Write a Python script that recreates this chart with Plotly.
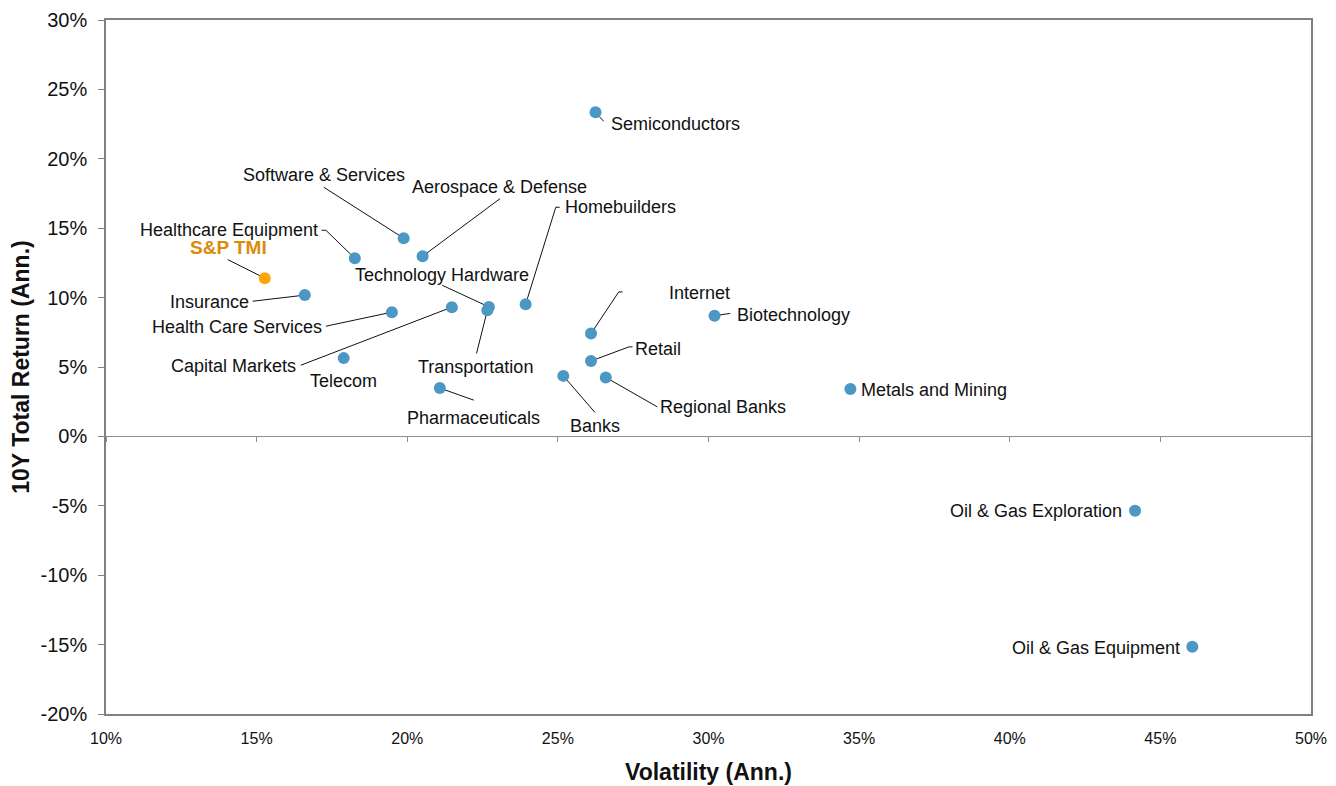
import plotly.graph_objects as go

# ---- data (percent) ----
sectors = ["Semiconductors", "Software & Services", "Aerospace & Defense", "Healthcare Equipment",
           "Insurance", "Health Care Services", "Capital Markets", "Technology Hardware",
           "Transportation", "Homebuilders", "Telecom", "Pharmaceuticals", "Internet", "Retail",
           "Banks", "Regional Banks", "Biotechnology", "Metals and Mining",
           "Oil & Gas Exploration", "Oil & Gas Equipment"]
volatility = [26.25, 19.88, 20.51, 18.26, 16.60, 19.49, 21.48, 22.71, 22.66, 23.93, 17.89, 21.08,
              26.10, 26.10, 25.18, 26.59, 30.20, 34.71, 44.16, 46.06]
total_return = [23.35, 14.28, 12.98, 12.83, 10.18, 8.95, 9.31, 9.33, 9.09, 9.52, 5.64, 3.48,
                7.41, 5.43, 4.36, 4.25, 8.69, 3.41, -5.36, -15.15]

benchmark_name = "S&P TMI"
benchmark_vol = [15.27]
benchmark_ret = [11.40]

x_ticks = [10, 15, 20, 25, 30, 35, 40, 45, 50]
y_ticks = [-20, -15, -10, -5, 0, 5, 10, 15, 20, 25, 30]

# ---- label placement (layout, in axis units): text pos, anchor, leader polyline ----
label_layout = {
    "Semiconductors":        (26.78, 22.50, "left",   [(26.52, 22.70)]),
    "Software & Services":   (17.23, 18.81, "center", [(17.23, 17.95)]),
    "Aerospace & Defense":   (23.07, 17.95, "center", [(23.08, 17.13)]),
    "Healthcare Equipment":  (17.03, 14.85, "right",  [(17.30, 14.85), (17.16, 14.85)]),
    "Insurance":             (14.74, 9.67,  "right",  [(14.87, 9.74)]),
    "Health Care Services":  (17.16, 7.87,  "right",  [(17.30, 7.94)]),
    "Capital Markets":       (16.30, 5.07,  "right",  [(16.47, 5.13)]),
    "Technology Hardware":   (21.14, 11.61, "center", [(21.16, 10.89)]),
    "Transportation":        (22.27, 4.99,  "center", [(22.30, 5.98)]),
    "Homebuilders":          (25.26, 16.51, "left",   [(24.93, 16.51), (25.06, 16.51)]),
    "Telecom":               (17.89, 3.98,  "center", []),
    "Pharmaceuticals":       (22.20, 1.32,  "center", [(22.21, 2.61)]),
    "Internet":              (29.70, 10.32, "center", None),
    "Retail":                (27.58, 6.28,  "left",   [(27.36, 6.45), (27.48, 6.45)]),
    "Banks":                 (26.22, 0.74,  "center", [(26.23, 1.73)]),
    "Regional Banks":        (28.41, 2.11,  "left",   [(28.30, 2.13)]),
    "Biotechnology":         (30.99, 8.73,  "left",   [(30.72, 8.86)]),
    "Metals and Mining":     (35.11, 3.34,  "left",   []),
    "Oil & Gas Exploration": (43.73, -5.38, "right",  []),
    "Oil & Gas Equipment":   (45.65, -15.24, "right", []),
}
internet_leader = [(27.02, 10.41), (27.15, 10.41)]
benchmark_label = (14.05, 13.63, [(14.04, 12.74)])
anchor_shift = {"left": -3, "right": 2, "center": 0}

BLUE = "#4b98c4"
ORANGE = "#ffa50a"
ORANGE_TXT = "#d98c0a"
FONT = "Liberation Sans, Arial, sans-serif"

# leader lines
lx, ly = [], []
for name, vx, ry in zip(sectors, volatility, total_return):
    tx, ty, anchor, pts = label_layout[name]
    if pts is None:
        pts = internet_leader
    if not pts:
        continue
    lx.append(vx); ly.append(ry)
    for px, py in pts:
        lx.append(px); ly.append(py)
    lx.append(None); ly.append(None)
bx, by, bpts = benchmark_label
lx.append(benchmark_vol[0]); ly.append(benchmark_ret[0])
for px, py in bpts:
    lx.append(px); ly.append(py)

fig = go.Figure()
fig.add_trace(go.Scatter(x=lx, y=ly, mode="lines", line=dict(color="#111111", width=1),
                         hoverinfo="skip", showlegend=False))
fig.add_trace(go.Scatter(x=volatility, y=total_return, mode="markers", text=sectors,
                         marker=dict(size=12, color=BLUE), showlegend=False))
fig.add_trace(go.Scatter(x=benchmark_vol, y=benchmark_ret, mode="markers", text=[benchmark_name],
                         marker=dict(size=12, color=ORANGE), showlegend=False))
# invisible trace to host the zero-line axis
fig.add_trace(go.Scatter(x=[None], y=[None], xaxis="x2", yaxis="y", showlegend=False))

annotations = []
for name in sectors:
    tx, ty, anchor, pts = label_layout[name]
    annotations.append(dict(x=tx, y=ty, text=name, showarrow=False, xanchor=anchor, yanchor="middle",
                            xshift=anchor_shift[anchor],
                            font=dict(family=FONT, size=18, color="#111111")))
annotations.append(dict(x=bx, y=by, text="<b>" + benchmark_name + "</b>", showarrow=False,
                        xanchor="center", yanchor="middle",
                        font=dict(family=FONT, size=19, color=ORANGE_TXT)))

fig.update_layout(
    width=1320, height=777,
    margin=dict(l=97.5, r=17, t=12, b=71),
    paper_bgcolor="white", plot_bgcolor="white",
    font=dict(family=FONT, color="#111111"),
    annotations=annotations,
    xaxis=dict(range=[10, 50], tickvals=x_ticks, ticktext=[f"{v}%" for v in x_ticks],
               automargin=False, ticklabelstandoff=9,
               showgrid=False, zeroline=False, showline=True, linecolor="#808080", linewidth=1.5,
               mirror=True, ticks="", tickfont=dict(size=16, family=FONT, color="#111111"),
               title=dict(text="<b>Volatility (Ann.)</b>", font=dict(size=23, family=FONT, color="#111111"),
                          standoff=30)),
    xaxis2=dict(range=[10, 50], overlaying="x", anchor="free", position=0.4, side="bottom",
                automargin=False,
                showgrid=False, zeroline=False, showline=True, linecolor="#909090", linewidth=1,
                ticks="outside", ticklen=5, tickcolor="#909090", tickvals=x_ticks,
                showticklabels=False),
    yaxis=dict(range=[-20, 30], tickvals=y_ticks, ticktext=[f"{v}%" for v in y_ticks],
               automargin=False, ticklabelstandoff=7,
               showgrid=False, zeroline=False, showline=True, linecolor="#808080", linewidth=1.5,
               mirror=True, ticks="outside", ticklen=6, tickcolor="#808080",
               tickfont=dict(size=20, family=FONT, color="#111111"),
               title=dict(text="<b>10Y Total Return (Ann.)</b>", font=dict(size=23, family=FONT, color="#111111"),
                          standoff=11)),
)

fig.write_html("out.html")
